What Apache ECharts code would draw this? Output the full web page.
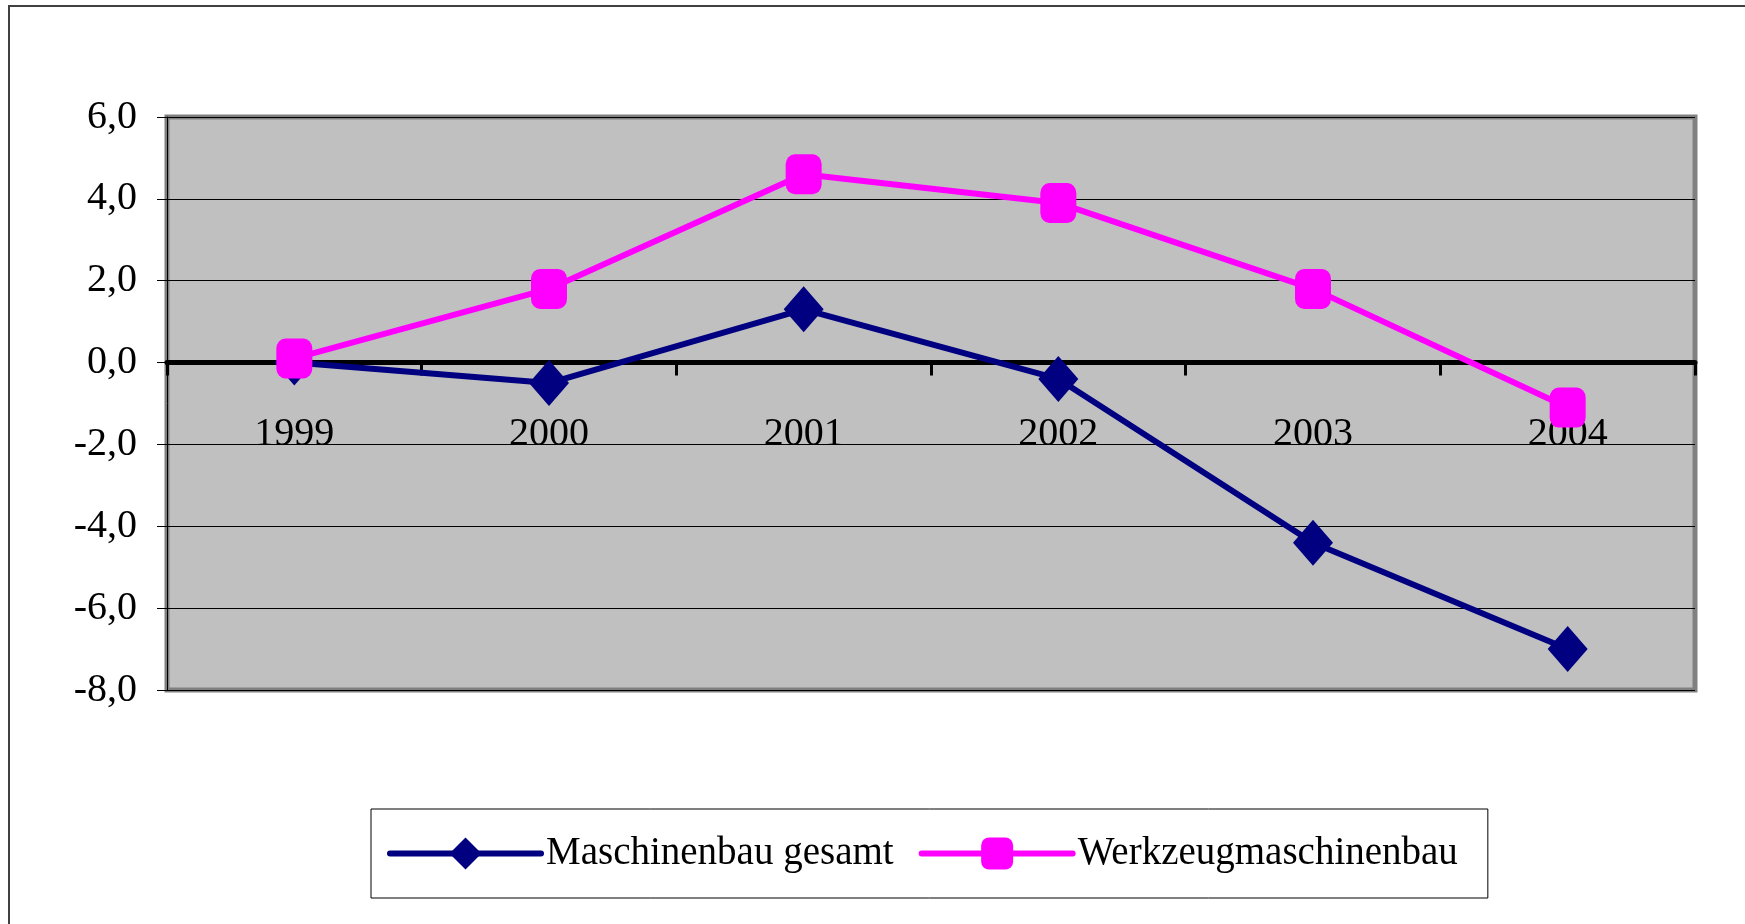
<!DOCTYPE html>
<html>
<head>
<meta charset="utf-8">
<script src="https://cdn.jsdelivr.net/npm/echarts@6/dist/echarts.min.js"></script>
<style>
  html, body { margin: 0; padding: 0; background: #fff; }
  #chart { width: 1745px; height: 924px; }
</style>
</head>
<body>
<div id="chart"></div>
<script>
const years = ['1999', '2000', '2001', '2002', '2003', '2004']
const maschinenbau = [0.0, -0.5, 1.3, -0.4, -4.4, -7.0]
const werkzeug = [0.1, 1.8, 4.6, 3.9, 1.8, -1.1]
const yTicks = { min: -8, max: 6, interval: 2 }

const serif = 'Liberation Serif'
const gridTop = 117
const gridBottom = 234
const gridH = 924 - gridTop - gridBottom
// the category axis sits on the zero line, labels included
const zeroOffset = -gridH * (0 - yTicks.min) / (yTicks.max - yTicks.min)

let chart = echarts.init(document.getElementById('chart'))
chart.setOption({
  animation: false,
  backgroundColor: '#fff',
  graphic: [{
    type: 'rect',
    shape: { x: 9, y: 6, width: 2000, height: 2000 },
    style: { fill: 'none', stroke: '#404040', lineWidth: 2 },
    silent: true
  }],
  grid: {
    left: 167,
    right: 50,
    top: gridTop,
    bottom: gridBottom,
    show: true,
    backgroundColor: '#C0C0C0',
    borderColor: '#808080',
    borderWidth: 5
  },
  legend: {
    left: 371,
    top: 809,
    padding: [25, 30, 25, 16],
    itemGap: 25,
    itemWidth: 151,
    itemHeight: 40,
    borderColor: '#000',
    borderWidth: 1,
    backgroundColor: '#fff',
    lineStyle: { width: 6, cap: 'round' },
    textStyle: { fontFamily: serif, fontSize: 39, color: '#000' },
    data: ['Maschinenbau gesamt', 'Werkzeugmaschinenbau']
  },
  xAxis: {
    type: 'category',
    data: years,
    boundaryGap: true,
    offset: zeroOffset,
    axisLine: { onZero: false, lineStyle: { color: '#000', width: 5 } },
    axisTick: { show: true, inside: false, length: 13, lineStyle: { color: '#000', width: 3 } },
    axisLabel: { fontFamily: serif, fontSize: 40, color: '#000', margin: 52 },
    splitLine: { show: false }
  },
  yAxis: {
    type: 'value',
    min: yTicks.min,
    max: yTicks.max,
    interval: yTicks.interval,
    axisLine: { show: true, lineStyle: { color: '#000', width: 1 } },
    axisTick: { show: true, inside: false, length: 10, lineStyle: { color: '#000', width: 1 } },
    axisLabel: {
      fontFamily: serif,
      fontSize: 40,
      color: '#000',
      margin: 30,
      formatter: v => v.toFixed(1).replace('.', ',')
    },
    splitLine: { show: true, lineStyle: { color: '#000', width: 1 } }
  },
  series: [{
    name: 'Maschinenbau gesamt',
    type: 'line',
    data: maschinenbau,
    color: '#000080',
    symbol: 'diamond',
    symbolSize: [40, 46],
    lineStyle: { width: 6, color: '#000080' },
    itemStyle: { color: '#000080' }
  }, {
    name: 'Werkzeugmaschinenbau',
    type: 'line',
    data: werkzeug,
    color: '#FF00FF',
    symbol: 'roundRect',
    symbolSize: [36, 40],
    lineStyle: { width: 6, color: '#FF00FF' },
    itemStyle: { color: '#FF00FF' }
  }]
})
</script>
</body>
</html>
